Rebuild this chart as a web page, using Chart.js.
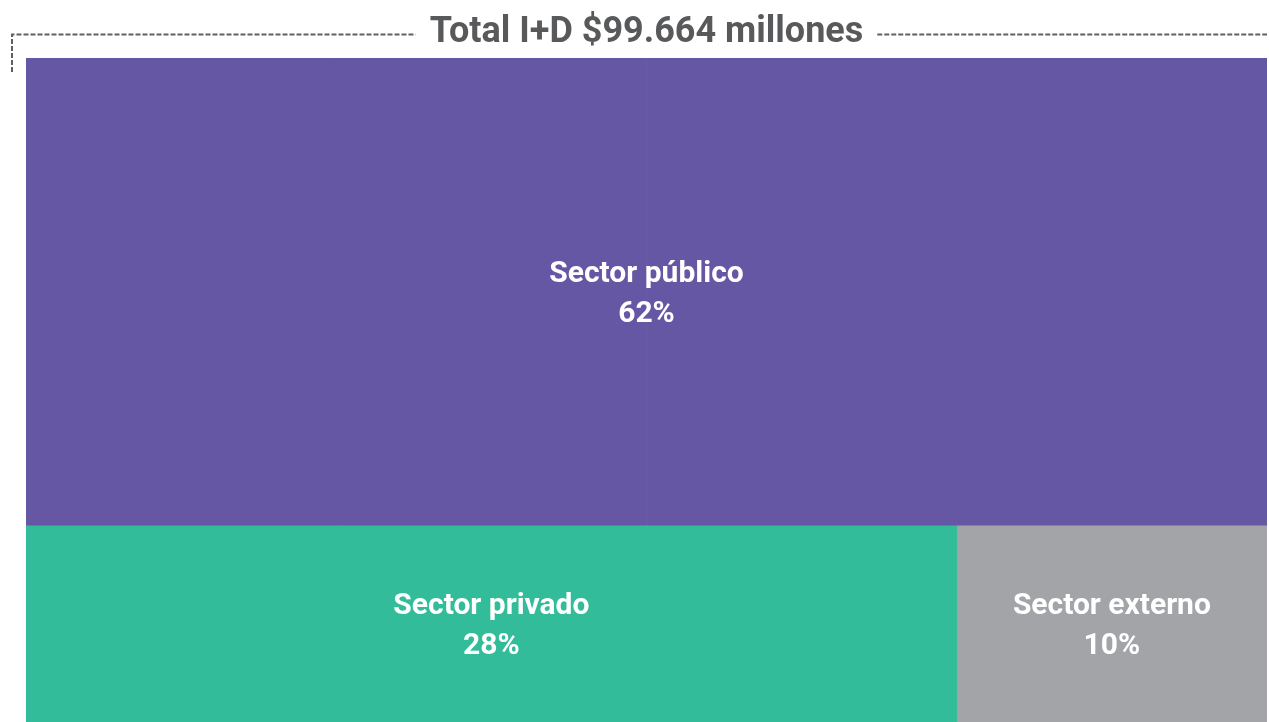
<!DOCTYPE html>
<html>
<head>
<meta charset="utf-8">
<script src="https://cdn.jsdelivr.net/npm/chart.js@4.4.1/dist/chart.umd.min.js"></script>
<style>
  html, body { margin: 0; padding: 0; background: #fff; }
  #wrap { width: 1269px; height: 722px; }
</style>
</head>
<body>
<div id="wrap"><canvas id="treeChart"></canvas></div>
<script>
const chartTitle = 'Total I+D $99.664 millones';
const sectorNames = ['Sector público', 'Sector privado', 'Sector externo'];
const sectorShares = [62, 28, 10];
const sectorColors = ['#6657a4', '#32bc99', '#a2a4a8'];
// bottom row of the treemap is split in quarters: which sector fills each one
const bottomColumns = ['Sector privado', 'Sector privado', 'Sector privado', 'Sector externo'];

const topShare = sectorShares[0];
const bottomShare = sectorShares[1] + sectorShares[2];

const datasets = [];
// bottom row first so it sits at the base of the stack
for (let i = 1; i < sectorNames.length; i++) {
  datasets.push({
    label: sectorNames[i],
    share: sectorShares[i],
    data: bottomColumns.map(s => s === sectorNames[i] ? bottomShare : null),
    backgroundColor: sectorColors[i]
  });
}
datasets.push({
  label: sectorNames[0],
  share: sectorShares[0],
  data: bottomColumns.map(() => topShare),
  backgroundColor: sectorColors[0]
});

const labelFont = 'bold 30px Roboto, "DejaVu Sans", sans-serif';

// writes name and share in the middle of the visible part of each block
const blockLabels = {
  id: 'blockLabels',
  afterDatasetsDraw(chart) {
    const ctx = chart.ctx;
    const area = chart.chartArea;
    chart.data.datasets.forEach((ds, i) => {
      const meta = chart.getDatasetMeta(i);
      let left = Infinity, right = -Infinity, top = Infinity, bottom = -Infinity;
      meta.data.forEach((el, j) => {
        if (ds.data[j] == null) return;
        const p = el.getProps(['x', 'y', 'base', 'width'], true);
        left = Math.min(left, p.x - p.width / 2);
        right = Math.max(right, p.x + p.width / 2);
        top = Math.min(top, p.y, p.base);
        bottom = Math.max(bottom, p.y, p.base);
      });
      top = Math.max(top, area.top);
      bottom = Math.min(bottom, area.bottom);
      const cx = (left + right) / 2;
      const cy = (top + bottom) / 2;
      ctx.save();
      ctx.fillStyle = '#ffffff';
      ctx.font = labelFont;
      ctx.textAlign = 'center';
      ctx.textBaseline = 'middle';
      ctx.fillText(ds.label, cx, cy - 17);
      ctx.fillText(ds.share + '%', cx, cy + 23);
      ctx.restore();
    });
  }
};

// title with the dashed bracket around it
const titleFrame = {
  id: 'titleFrame',
  afterDraw(chart) {
    const ctx = chart.ctx;
    const area = chart.chartArea;
    const cx = (area.left + area.right) / 2;
    const lineY = 34.5;
    ctx.save();
    ctx.font = 'bold 36px Roboto, "DejaVu Sans", sans-serif';
    ctx.fillStyle = '#58595b';
    ctx.textAlign = 'center';
    ctx.textBaseline = 'alphabetic';
    ctx.fillText(chartTitle, cx, 42);
    const w = ctx.measureText(chartTitle).width;
    ctx.strokeStyle = '#5f6062';
    ctx.lineWidth = 2;
    ctx.setLineDash([5, 2]);
    ctx.beginPath();
    ctx.moveTo(12, 72);
    ctx.lineTo(12, lineY);
    ctx.lineTo(cx - w / 2 - 14, lineY);
    ctx.moveTo(cx + w / 2 + 14, lineY);
    ctx.lineTo(area.right, lineY);
    ctx.stroke();
    ctx.restore();
  }
};

new Chart(document.getElementById('treeChart'), {
  type: 'bar',
  data: { labels: bottomColumns.map((s, i) => 'c' + i), datasets: datasets },
  options: {
    responsive: true,
    maintainAspectRatio: false,
    animation: false,
    layout: { padding: { left: 26, right: 2, top: 58, bottom: 0 } },
    datasets: { bar: { categoryPercentage: 1, barPercentage: 1, borderWidth: 0 } },
    scales: {
      x: { stacked: true, display: false },
      y: { stacked: true, display: false, min: 12, max: 100 }
    },
    plugins: {
      legend: { display: false },
      tooltip: { enabled: false },
      title: { display: false }
    }
  },
  plugins: [blockLabels, titleFrame]
});
</script>
</body>
</html>
